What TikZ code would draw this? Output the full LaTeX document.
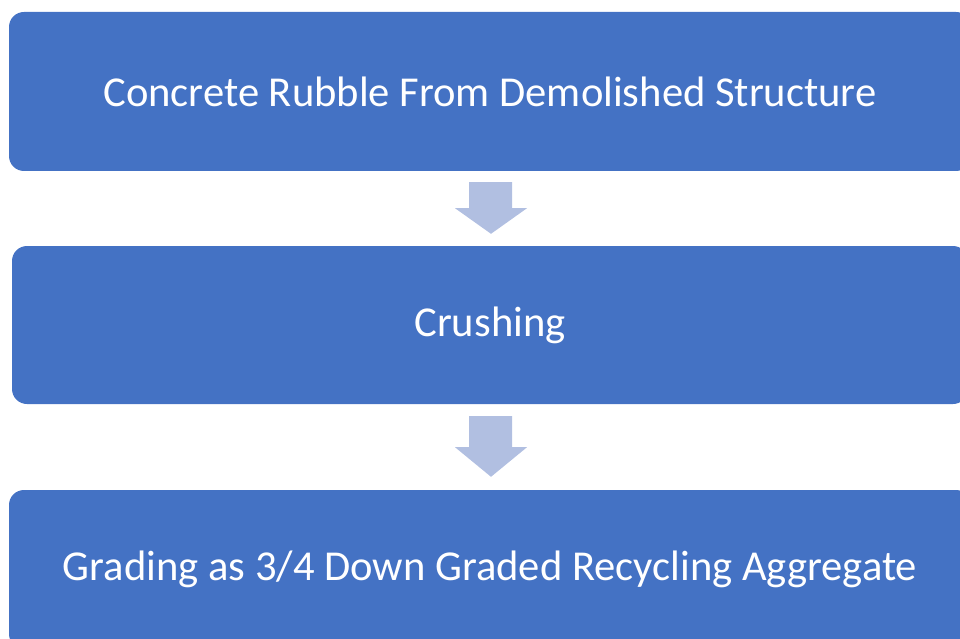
\documentclass[tikz,border=0pt]{standalone}
\usepackage{fontspec}
\setmainfont{Carlito}
\usetikzlibrary{calc, positioning}

\definecolor{stepblue}{RGB}{68,114,196}
\definecolor{arrowblue}{RGB}{177,191,225}

\begin{document}
\begin{tikzpicture}[
    x=1pt, y=-1pt,
    stepbox/.style={rectangle, rounded corners=15pt, fill=stepblue, draw=none,
        minimum width=962pt, minimum height=159pt, text=white,
        font=\fontsize{42.6}{50}\selectfont, inner sep=0pt},
    flowarrow/.style={fill=arrowblue, draw=none}
]

% page frame
\useasboundingbox (0,0) rectangle (960,639);
\clip (0,0) rectangle (960,639);

% ============= PROCESS STEPS =============
\node[stepbox] (rubble) at (490,91.5) {Concrete Rubble From Demolished Structure};
\node[stepbox, minimum width=956pt, minimum height=158pt] (crush) at (490,325) {Crushing};
\node[stepbox] (grade) at (490,569.5) {Grading as 3/4 Down Graded Recycling Aggregate};

% ============= BLOCK ARROWS =============
\fill[flowarrow] ($(rubble.south)+(-21,11)$) -- ($(rubble.south)+(22,11)$)
    -- ($(rubble.south)+(22,37)$) -- ($(rubble.south)+(37,37)$)
    -- ($(crush.north)+(1,-12)$) -- ($(rubble.south)+(-35,37)$)
    -- ($(rubble.south)+(-21,37)$) -- cycle;
\fill[flowarrow] ($(crush.south)+(-21,12)$) -- ($(crush.south)+(22,12)$)
    -- ($(crush.south)+(22,43)$) -- ($(crush.south)+(37,43)$)
    -- ($(grade.north)+(1,-13)$) -- ($(crush.south)+(-35,43)$)
    -- ($(crush.south)+(-21,43)$) -- cycle;

\end{tikzpicture}
\end{document}
